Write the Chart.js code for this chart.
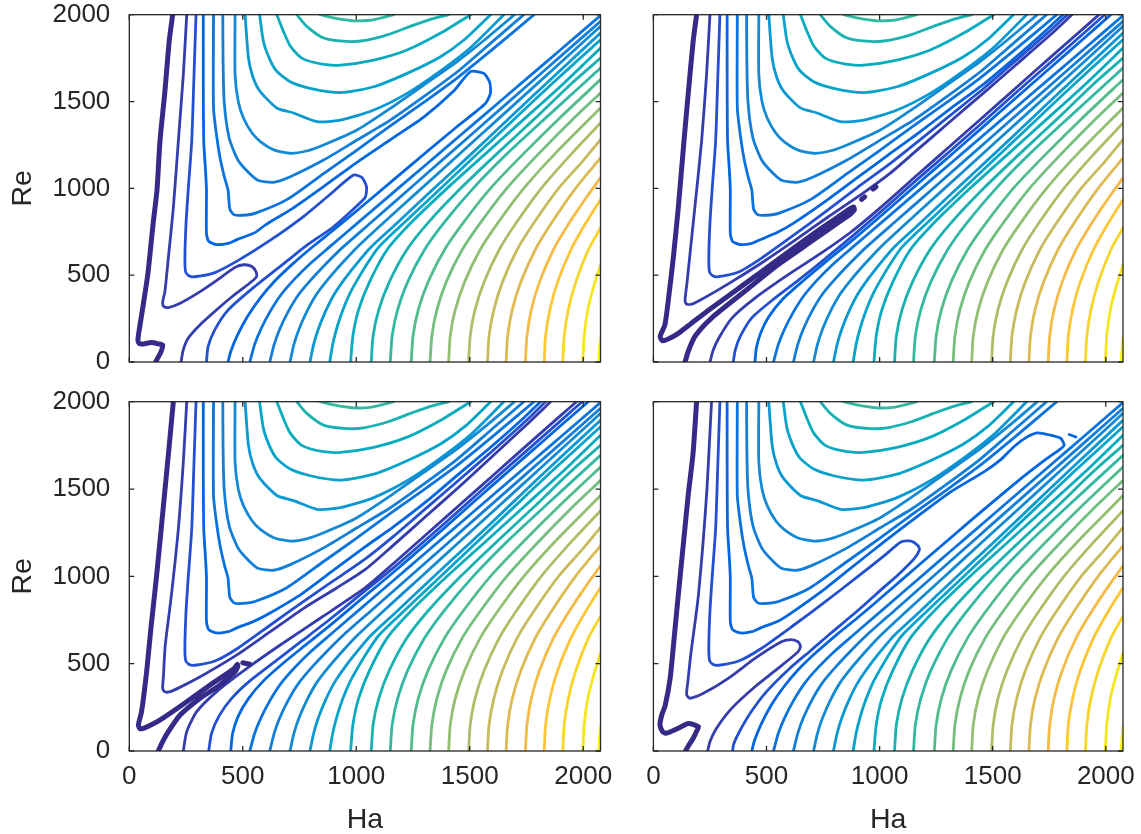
<!DOCTYPE html>
<html>
<head>
<meta charset="utf-8">
<script src="https://cdn.jsdelivr.net/npm/chart.js@4.4.1/dist/chart.umd.min.js"></script>
<style>
  html, body { margin: 0; padding: 0; background: #ffffff; }
  #fig { position: relative; width: 1141px; height: 834px; overflow: hidden; background: #ffffff; }
  #fig canvas { position: absolute; }
</style>
</head>
<body>
<div id="fig">
  <canvas id="tl"></canvas>
  <canvas id="tr"></canvas>
  <canvas id="bl"></canvas>
  <canvas id="br"></canvas>
</div>
<script>
// ---- axes ----
const haMax = 2076;
const reMax = 2000;
const haTicks = [0, 500, 1000, 1500, 2000];
const reTicks = [0, 500, 1000, 1500, 2000];
const levelTop = 22;   // highest contour level index (yellow)

// ---- contour lines shared by all four panels: [Ha, Re] points ----
// upper family (U-shaped, above the valley), levels 4..11
const U4  = [[371,2000],[371,1463],[385,1300],[400,1175],[420,1060],[435,990],[443,880],[462,848],[500,845],[553,856],[694,935],[856,1085],[1003,1220],[1150,1360],[1297,1495],[1444,1635],[1600,1800],[1783,2000]];
const U5  = [[412,2000],[413,1750],[418,1500],[440,1290],[480,1160],[530,1085],[569,1045],[635,1035],[709,1067],[856,1163],[1003,1278],[1150,1393],[1297,1528],[1444,1670],[1600,1845],[1738,2000]];
const U6  = [[466,2000],[466,1655],[480,1500],[503,1405],[540,1320],[576,1271],[640,1220],[709,1202],[780,1215],[856,1250],[1003,1336],[1150,1461],[1297,1595],[1444,1730],[1570,1860],[1697,2000]];
const U7  = [[510,2000],[525,1750],[545,1640],[576,1559],[650,1463],[724,1434],[827,1384],[930,1393],[1077,1451],[1224,1547],[1356,1662],[1503,1810],[1650,2000]];
const U8  = [[574,2000],[591,1846],[620,1740],[650,1674],[709,1614],[797,1576],[930,1551],[1077,1585],[1224,1662],[1371,1758],[1480,1860],[1592,2000]];
const U9  = [[650,2000],[679,1904],[709,1820],[760,1750],[850,1715],[930,1710],[1077,1739],[1224,1797],[1380,1900],[1504,2000]];
const U10 = [[738,2000],[782,1933],[856,1866],[959,1846],[1040,1852],[1140,1885],[1238,1933],[1330,1975],[1408,2000]];
const U11 = [[841,2000],[900,1982],[988,1965],[1060,1968],[1120,1985],[1165,2000]];

// lower family (below the valley), levels 4..22
const B4  = [[531,0],[552,100],[580,190],[620,290],[670,390],[730,480],[800,570],[880,660],[1018,814],[1165,978],[1312,1142],[1460,1307],[1606,1470],[1760,1642],[1900,1798],[2076,1995]];
const B5  = [[619,0],[638,100],[663,190],[700,290],[747,390],[805,480],[870,570],[940,660],[1070,809],[1230,992],[1400,1187],[1570,1382],[1750,1588],[1920,1783],[2076,1962]];
const B6  = [[708,0],[725,100],[748,190],[782,290],[825,390],[878,480],[938,570],[1003,660],[1120,802],[1280,991],[1450,1192],[1620,1393],[1800,1606],[1960,1795],[2076,1933]];
const B7  = [[796,0],[812,100],[833,190],[864,290],[903,390],[950,480],[1004,570],[1063,660],[1175,795],[1330,985],[1500,1190],[1675,1405],[1850,1620],[2076,1894]];
const B8  = [[883,0],[896,100],[913,190],[938,290],[970,390],[1008,480],[1050,570],[1098,660],[1180,765],[1340,960],[1510,1170],[1685,1385],[1860,1600],[2076,1856]];
const B9  = [[975,0],[985,150],[1010,300],[1058,460],[1135,645],[1240,800],[1400,1000],[1570,1200],[1740,1400],[1910,1600],[2076,1808]];
const B10 = [[1066,0],[1074,150],[1099,300],[1145,460],[1222,645],[1315,800],[1460,1000],[1620,1200],[1785,1400],[1945,1600],[2076,1750]];
const B11 = [[1150,0],[1158,150],[1182,300],[1226,460],[1300,645],[1385,800],[1515,1000],[1665,1200],[1830,1400],[2076,1693]];
const B12 = [[1242,0],[1250,150],[1273,300],[1316,460],[1388,645],[1470,800],[1591,1000],[1737,1200],[1892,1400],[2076,1626]];
const B13 = [[1325,0],[1333,150],[1355,300],[1396,460],[1466,645],[1546,800],[1663,1000],[1804,1200],[1955,1400],[2076,1549]];
const B14 = [[1407,0],[1414,150],[1436,300],[1477,460],[1545,645],[1623,800],[1738,1000],[1876,1200],[2076,1463]];
const B15 = [[1495,0],[1502,150],[1523,300],[1563,460],[1629,645],[1704,800],[1815,1000],[1949,1200],[2076,1376]];
const B16 = [[1578,0],[1585,150],[1606,300],[1644,460],[1708,645],[1782,800],[1891,1000],[1993,1150],[2076,1280]];
const B17 = [[1660,0],[1667,150],[1687,300],[1725,460],[1788,645],[1860,800],[1966,1000],[2076,1175]];
const B18 = [[1745,0],[1752,150],[1771,300],[1807,460],[1868,645],[1938,800],[2015,950],[2076,1060]];
const B19 = [[1828,0],[1834,150],[1853,300],[1887,460],[1945,645],[2011,800],[2076,935]];
const B20 = [[1910,0],[1916,150],[1934,300],[1967,460],[2022,645],[2076,772]];
const B21 = [[1998,0],[2004,150],[2020,300],[2045,430],[2076,560]];
const B22 = [[2068,0],[2071,70],[2076,140]];

// ---- top-left panel ----
const tlL0 = [[191,2000],[176,1850],[157,1560],[135,1270],[122,990],[105,798],[82,510],[60,318],[46,203],[38,127],[44,106],[62,104],[97,112],[130,104],[147,97],[140,60],[126,25],[116,0]];
const tlL1 = [[253,2000],[238,1655],[216,1271],[194,887],[172,599],[157,407],[147,345],[152,320],[172,313],[224,338],[312,405],[385,470],[466,545],[505,560],[540,550],[558,520],[560,491],[538,462],[459,383],[385,301],[312,215],[260,138],[238,71],[228,0]];
const tlL2 = [[294,2000],[285,1650],[275,1271],[260,1000],[250,800],[245,600],[248,520],[262,497],[288,491],[377,515],[480,585],[620,700],[760,830],[880,960],[988,1077],[1025,1062],[1045,1010],[1040,950],[1003,900],[900,779],[780,670],[700,587],[552,434],[435,299],[376,184],[347,88],[340,0]];
const tlL3 = [[326,2000],[326,1600],[328,1271],[336,1100],[340,990],[340,741],[350,695],[385,676],[435,683],[474,705],[553,745],[600,790],[720,885],[856,1010],[1003,1150],[1150,1280],[1297,1410],[1429,1560],[1503,1672],[1562,1662],[1588,1610],[1591,1547],[1569,1489],[1450,1362],[1312,1212],[1165,1050],[1018,888],[900,760],[812,668],[720,565],[640,465],[575,365],[520,260],[475,150],[447,60],[435,0]];

// ---- top-right panel ----
const trL0 = [[191,2000],[176,1850],[155,1560],[135,1270],[110,888],[88,600],[70,400],[51,215],[30,148],[40,122],[70,135],[110,165],[170,225],[257,311],[404,450],[551,590],[699,730],[816,835],[868,882],[885,893],[888,875],[870,850],[846,829],[699,695],[551,560],[404,407],[257,253],[184,148],[154,61],[140,0]];
const trDotA = [[920,936],[934,951]];
const trDotB = [[971,996],[984,1009]];
const trL1up = [[250,2000],[235,1655],[213,1271],[183,887],[160,600],[148,450],[140,360],[145,335],[165,332],[198,350],[331,450],[478,570],[625,700],[772,835],[919,965],[1040,1080],[1165,1220],[1312,1385],[1460,1550],[1606,1715],[1760,1890],[1850,2000]];
const trL2up = [[294,2000],[285,1650],[275,1271],[260,1000],[250,800],[245,600],[248,520],[262,497],[288,491],[377,518],[480,600],[620,730],[760,865],[900,1003],[1040,1136],[1165,1265],[1312,1420],[1460,1575],[1606,1740],[1760,1915],[1830,2000]];
const trL3up = [[326,2000],[326,1600],[328,1271],[336,1100],[340,990],[340,741],[350,695],[385,676],[435,683],[474,705],[553,750],[620,800],[760,925],[900,1060],[1040,1194],[1165,1312],[1312,1458],[1460,1600],[1606,1760],[1740,1915],[1810,2000]];
const trL1lo = [[250,0],[265,70],[290,140],[347,253],[449,368],[596,503],[743,628],[875,750],[1018,905],[1165,1075],[1312,1244],[1460,1414],[1606,1582],[1760,1760],[1900,1920],[1970,2000]];
const trL2lo = [[353,0],[362,70],[385,150],[434,253],[520,350],[640,470],[760,595],[880,725],[1018,880],[1165,1050],[1312,1215],[1460,1385],[1606,1555],[1760,1730],[1900,1890],[1995,2000]];
const trL3lo = [[449,0],[455,80],[475,170],[510,260],[570,360],[660,465],[770,585],[890,712],[1018,855],[1165,1022],[1312,1188],[1460,1357],[1606,1525],[1760,1700],[1900,1860],[2022,2000]];

// ---- bottom-left panel ----
const blL0 = [[194,2000],[176,1750],[150,1400],[120,1000],[95,700],[76,450],[54,225],[40,149],[47,128],[62,130],[106,156],[150,190],[253,282],[356,378],[459,470],[476,496],[478,484],[466,454],[400,378],[312,302],[224,206],[172,111],[143,44],[128,0]];
const blDash = [[500,505],[530,497]];
const blL1up = [[253,2000],[238,1655],[216,1271],[185,887],[158,600],[150,420],[147,360],[155,340],[175,338],[216,360],[326,435],[474,550],[621,683],[768,817],[915,935],[1040,1040],[1165,1180],[1312,1350],[1460,1520],[1606,1695],[1760,1880],[1856,2000]];
const blL2up = [[294,2000],[285,1650],[275,1271],[260,1000],[250,800],[245,600],[248,520],[262,497],[288,491],[377,515],[480,590],[620,720],[760,850],[900,975],[1040,1100],[1165,1230],[1312,1395],[1460,1560],[1606,1725],[1760,1905],[1834,2000]];
const blL3up = [[326,2000],[326,1600],[328,1271],[336,1100],[340,990],[340,741],[350,695],[385,676],[435,683],[474,705],[553,745],[620,790],[760,900],[900,1035],[1040,1170],[1165,1285],[1312,1432],[1460,1595],[1606,1755],[1740,1910],[1812,2000]];
const blL1lo = [[238,0],[253,111],[297,225],[385,340],[518,473],[665,607],[841,760],[1040,935],[1165,1075],[1312,1244],[1460,1414],[1606,1582],[1760,1760],[1900,1920],[1970,2000]];
const blL2lo = [[350,0],[362,100],[395,200],[450,300],[530,400],[640,510],[760,630],[880,750],[1018,895],[1165,1050],[1312,1215],[1460,1385],[1606,1555],[1760,1730],[1900,1890],[1995,2000]];
const blL3lo = [[447,0],[455,100],[480,200],[525,300],[590,400],[680,505],[780,610],[890,725],[1018,865],[1165,1025],[1312,1190],[1460,1360],[1606,1528],[1760,1703],[1900,1862],[2022,2000]];

// ---- bottom-right panel ----
const brL0 = [[191,2000],[175,1700],[154,1466],[132,1180],[110,893],[92,650],[74,416],[52,260],[37,206],[29,149],[40,112],[55,101],[110,130],[154,158],[199,139],[190,110],[176,73],[155,30],[142,0]];
const brL1 = [[257,2000],[235,1466],[199,893],[165,550],[154,416],[147,321],[162,302],[221,330],[331,416],[449,530],[566,625],[610,638],[640,625],[650,600],[640,569],[551,473],[449,368],[346,244],[279,130],[250,53],[240,0]];
const brL2 = [[294,2000],[285,1650],[275,1271],[260,1000],[250,800],[245,600],[248,520],[262,497],[288,491],[377,515],[480,590],[620,720],[760,855],[900,995],[1022,1120],[1096,1198],[1140,1202],[1170,1175],[1176,1151],[1154,1103],[1081,1008],[1022,941],[900,800],[780,670],[700,580],[600,470],[500,340],[430,220],[380,110],[355,40],[350,0]];
const brL3 = [[326,2000],[326,1600],[328,1271],[336,1100],[340,990],[340,741],[350,695],[385,676],[435,683],[474,705],[553,745],[620,800],[760,930],[856,1030],[1022,1200],[1169,1345],[1316,1485],[1463,1600],[1537,1670],[1596,1745],[1654,1800],[1699,1822],[1757,1808],[1801,1790],[1816,1752],[1800,1730],[1740,1675],[1606,1540],[1460,1382],[1312,1218],[1165,1055],[1018,890],[900,760],[812,668],[720,565],[640,465],[575,365],[520,260],[475,150],[447,60],[435,0]];
const brDash = [[1838,1812],[1868,1798]];

// ---- level tables: [level, line] ----
const sharedLines = [
  [4,U4],[5,U5],[6,U6],[7,U7],[8,U8],[9,U9],[10,U10],[11,U11],
  [4,B4],[5,B5],[6,B6],[7,B7],[8,B8],[9,B9],[10,B10],[11,B11],[12,B12],[13,B13],
  [14,B14],[15,B15],[16,B16],[17,B17],[18,B18],[19,B19],[20,B20],[21,B21],[22,B22]
];
const tlLines = [[0,tlL0],[1,tlL1],[2,tlL2],[3,tlL3]];
const trLines = [[0,trL0],[0,trDotA],[0,trDotB],[1,trL1up],[1,trL1lo],[2,trL2up],[2,trL2lo],[3,trL3up],[3,trL3lo]];
const blLines = [[0,blL0],[0,blDash],[1,blL1up],[1,blL1lo],[2,blL2up],[2,blL2lo],[3,blL3up],[3,blL3lo]];
const brLines = [[0,brL0],[1,brL1],[2,brL2],[3,brL3],[3,brDash]];

// ---- parula colormap ----
const parulaMap = [[0.2081,0.1663,0.5292],[0.2116,0.1898,0.5777],[0.2123,0.2138,0.6270],[0.2081,0.2386,0.6771],[0.1959,0.2645,0.7279],[0.1707,0.2919,0.7792],[0.1253,0.3242,0.8303],[0.0591,0.3598,0.8683],[0.0117,0.3875,0.8820],[0.0060,0.4086,0.8828],[0.0165,0.4266,0.8786],[0.0329,0.4430,0.8720],[0.0498,0.4586,0.8641],[0.0629,0.4737,0.8554],[0.0723,0.4887,0.8467],[0.0779,0.5040,0.8384],[0.0793,0.5200,0.8312],[0.0749,0.5375,0.8263],[0.0641,0.5570,0.8240],[0.0488,0.5772,0.8228],[0.0343,0.5966,0.8199],[0.0265,0.6137,0.8135],[0.0239,0.6287,0.8038],[0.0231,0.6418,0.7913],[0.0228,0.6535,0.7768],[0.0267,0.6642,0.7607],[0.0384,0.6743,0.7436],[0.0590,0.6838,0.7254],[0.0843,0.6928,0.7062],[0.1133,0.7015,0.6859],[0.1453,0.7098,0.6646],[0.1801,0.7177,0.6424],[0.2178,0.7250,0.6193],[0.2586,0.7317,0.5954],[0.3022,0.7376,0.5712],[0.3482,0.7424,0.5473],[0.3953,0.7459,0.5244],[0.4420,0.7481,0.5033],[0.4871,0.7491,0.4840],[0.5300,0.7491,0.4661],[0.5709,0.7485,0.4494],[0.6099,0.7473,0.4337],[0.6473,0.7456,0.4188],[0.6834,0.7435,0.4044],[0.7184,0.7411,0.3905],[0.7525,0.7384,0.3768],[0.7858,0.7356,0.3633],[0.8185,0.7327,0.3498],[0.8507,0.7299,0.3360],[0.8824,0.7274,0.3217],[0.9139,0.7258,0.3063],[0.9450,0.7261,0.2886],[0.9739,0.7314,0.2666],[0.9938,0.7455,0.2403],[0.9990,0.7653,0.2164],[0.9955,0.7861,0.1967],[0.9880,0.8066,0.1794],[0.9789,0.8271,0.1633],[0.9697,0.8481,0.1475],[0.9626,0.8705,0.1309],[0.9589,0.8949,0.1132],[0.9598,0.9218,0.0948],[0.9661,0.9514,0.0755],[0.9763,0.9831,0.0538]];
function parula(t) {
  const f = Math.min(Math.max(t, 0), 1) * (parulaMap.length - 1);
  const i = Math.floor(f), j = Math.min(i + 1, parulaMap.length - 1), w = f - i;
  const c = parulaMap[i].map((v, k) => Math.round(255 * (v + (parulaMap[j][k] - v) * w)));
  return 'rgb(' + c[0] + ',' + c[1] + ',' + c[2] + ')';
}

// ---- styling / layout ----
const FONT = 'Liberation Sans, Arial, Helvetica, sans-serif';
const INK = '#262626';
const panels = {
  tl: { x: 0,   y: 0,   w: 615, h: 380, al: 129.3, at: 14.7,  ar: 600.5, ab: 362, lines: tlLines, showX: false, showY: true },
  tr: { x: 630, y: 0,   w: 505, h: 380, al: 653.4, at: 14.7,  ar: 1123,  ab: 362, lines: trLines, showX: false, showY: false },
  bl: { x: 0,   y: 385, w: 615, h: 449, al: 129.3, at: 401.7, ar: 600.5, ab: 751, lines: blLines, showX: true,  showY: true },
  br: { x: 630, y: 385, w: 505, h: 449, al: 653.4, at: 401.7, ar: 1123,  ab: 751, lines: brLines, showX: true,  showY: false }
};

// axes box with inward tick marks on all four sides
const boxPlugin = {
  id: 'boxFrame',
  afterDatasetsDraw(chart) {
    const { ctx, chartArea: a, scales } = chart;
    const tk = 5;
    ctx.save();
    ctx.strokeStyle = INK;
    ctx.lineWidth = 1.3;
    ctx.strokeRect(a.left, a.top, a.right - a.left, a.bottom - a.top);
    ctx.beginPath();
    haTicks.forEach(v => {
      const px = scales.x.getPixelForValue(v);
      ctx.moveTo(px, a.bottom); ctx.lineTo(px, a.bottom - tk);
      ctx.moveTo(px, a.top);    ctx.lineTo(px, a.top + tk);
    });
    reTicks.forEach(v => {
      const py = scales.y.getPixelForValue(v);
      ctx.moveTo(a.left, py);  ctx.lineTo(a.left + tk, py);
      ctx.moveTo(a.right, py); ctx.lineTo(a.right - tk, py);
    });
    ctx.stroke();
    ctx.restore();
  }
};

function buildDatasets(lines) {
  return lines.concat(sharedLines).map(([lev, pts]) => ({
    data: pts.map(p => ({ x: p[0], y: p[1] })),
    borderColor: parula(lev / levelTop),
    borderWidth: lev === 0 ? 5 : 2.8,
    pointRadius: 0,
    pointHoverRadius: 0,
    fill: false,
    tension: 0.22,
    borderJoinStyle: 'round',
    borderCapStyle: 'round',
    clip: 0
  }));
}

function makePanel(id) {
  const p = panels[id];
  const cv = document.getElementById(id);
  cv.width = p.w; cv.height = p.h;
  cv.style.left = p.x + 'px'; cv.style.top = p.y + 'px';
  cv.style.width = p.w + 'px'; cv.style.height = p.h + 'px';
  // target plot rectangle inside this canvas
  const want = { left: p.al - p.x, top: p.at - p.y, right: p.ar - p.x, bottom: p.ab - p.y };
  const fitBox = { yW: want.left, xH: p.h - want.bottom };
  const chart = new Chart(cv, {
    type: 'line',
    data: { datasets: buildDatasets(p.lines) },
    options: {
      responsive: false,
      animation: false,
      devicePixelRatio: 1,
      events: [],
      layout: { autoPadding: false, padding: { left: 0, top: want.top, right: p.w - want.right, bottom: 0 } },
      plugins: { legend: { display: false }, tooltip: { enabled: false } },
      scales: {
        x: {
          type: 'linear', position: 'bottom', min: 0, max: haMax,
          afterBuildTicks: s => { s.ticks = haTicks.map(v => ({ value: v })); },
          afterFit: s => { s.height = fitBox.xH; s.paddingLeft = 0; s.paddingRight = 0; s.paddingTop = 0; s.paddingBottom = 0; },
          grid: { display: false, drawTicks: false },
          border: { display: false },
          ticks: { display: p.showX, padding: 10, color: INK, maxRotation: 0, autoSkip: false,
                   font: { family: FONT, size: 26 }, callback: v => String(v) },
          title: { display: p.showX, text: 'Ha', color: INK,
                   font: { family: FONT, size: 28.5, lineHeight: 1 }, padding: { top: 0, bottom: 0 } }
        },
        y: {
          type: 'linear', position: 'left', min: 0, max: reMax,
          afterBuildTicks: s => { s.ticks = reTicks.map(v => ({ value: v })); },
          afterFit: s => { s.width = fitBox.yW; s.paddingLeft = 0; s.paddingRight = 0; s.paddingTop = 0; s.paddingBottom = 0; },
          grid: { display: false, drawTicks: false },
          border: { display: false },
          ticks: { display: p.showY, padding: 19, color: INK, autoSkip: false,
                   font: { family: FONT, size: 26 }, callback: v => String(v) },
          title: { display: p.showY, text: 'Re', color: INK,
                   font: { family: FONT, size: 28.5, lineHeight: 1 }, padding: { top: 9, bottom: 0 } }
        }
      }
    },
    plugins: [boxPlugin]
  });
  // nudge the layout until the plot rectangle sits where it should
  for (let k = 0; k < 4; k++) {
    const a = chart.chartArea;
    const dl = want.left - a.left, dt = want.top - a.top, dr = a.right - want.right, db = a.bottom - want.bottom;
    if (Math.abs(dl) + Math.abs(dt) + Math.abs(dr) + Math.abs(db) < 0.2) break;
    fitBox.yW += dl;
    fitBox.xH += db;
    chart.options.layout.padding.top += dt;
    chart.options.layout.padding.right += dr;
    chart.update();
  }
  return chart;
}

['tl', 'tr', 'bl', 'br'].forEach(makePanel);
</script>
</body>
</html>
